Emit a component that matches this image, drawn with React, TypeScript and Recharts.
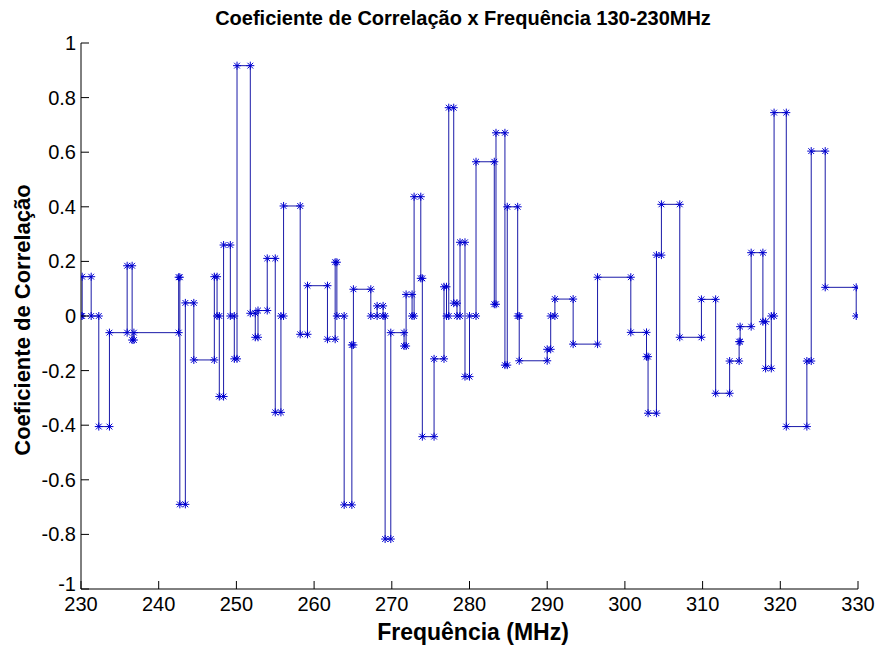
import React from "react";
import { LineChart, Line, XAxis, YAxis } from "recharts";

// Step start frequencies (MHz) and correlation values held until the next step
const stepFreq = [
  230.0, 230.15, 231.31, 232.29, 233.66, 235.94, 236.58, 236.81, 242.57, 242.72,
  243.43, 244.52, 247.16, 247.51, 247.8, 248.35, 249.22, 249.73, 250.08, 251.79,
  252.43, 252.78, 253.97, 255.0, 255.73, 256.07, 258.21, 259.15, 261.72, 262.71,
  262.93, 263.87, 264.86, 265.06, 267.3, 268.11, 268.88, 269.14, 269.87, 271.58,
  271.84, 272.61, 272.87, 273.73, 273.93, 275.44, 276.72, 277.04, 277.33, 277.97,
  278.39, 278.78, 279.42, 280.0, 280.84, 283.19, 283.41, 284.56, 284.86, 286.2,
  286.4, 290.0, 290.45, 290.99, 293.34, 296.48, 300.76, 302.78, 302.98, 304.06,
  304.7, 307.06, 309.85, 311.68, 313.48, 314.7, 314.83, 316.25, 317.76, 318.11,
  318.84, 319.2, 320.77, 323.42, 323.98, 325.78, 329.77,
];
const stepCoef = [
  0, 0.144, 0, -0.405, -0.061, 0.184, -0.088, -0.061, 0.142, -0.69,
  0.048, -0.161, 0.144, 0, -0.295, 0.26, 0, -0.157, 0.917, 0.01,
  -0.078, 0.02, 0.211, -0.353, 0, 0.403, -0.067, 0.111, -0.085, 0.197,
  0, -0.692, -0.106, 0.098, 0, 0.037, 0, -0.817, -0.061, -0.11,
  0.079, 0, 0.437, 0.138, -0.442, -0.157, 0.107, 0, 0.763, 0.047,
  0, 0.27, -0.222, 0, 0.565, 0.043, 0.671, -0.18, 0.4, 0,
  -0.164, -0.122, 0, 0.062, -0.103, 0.142, -0.06, -0.149, -0.356, 0.223,
  0.409, -0.078, 0.061, -0.283, -0.165, -0.094, -0.039, 0.232, -0.021, -0.192,
  0, 0.745, -0.405, -0.165, 0.604, 0.105, 0,
];
const xTicks = [230, 240, 250, 260, 270, 280, 290, 300, 310, 320, 330];
const yTicks = [-1, -0.8, -0.6, -0.4, -0.2, 0, 0.2, 0.4, 0.6, 0.8, 1];

const titleText = "Coeficiente de Correlação x Frequência 130-230MHz";
const xLabelText = "Frequência (MHz)";
const yLabelText = "Coeficiente de Correlação";

// stairs vertices: (x_i, y_i) and (x_{i+1}, y_i)
const stairsData: { f: number; c: number }[] = [];
stepFreq.forEach((f, i) => {
  stairsData.push({ f, c: stepCoef[i] });
  if (i < stepFreq.length - 1) stairsData.push({ f: stepFreq[i + 1], c: stepCoef[i] });
});

const COLOR = "#1a1aa8";
const FONT = "'Liberation Sans', Arial, Helvetica, sans-serif";

const Star = (props: any) => {
  const { cx, cy, index } = props;
  if (cx == null || cy == null) return <g key={index} />;
  const r = 4;
  const d = r * 0.72;
  return (
    <g key={index} stroke="#0000d0" strokeWidth={1}>
      <line x1={cx - r} y1={cy} x2={cx + r} y2={cy} />
      <line x1={cx} y1={cy - r} x2={cx} y2={cy + r} />
      <line x1={cx - d} y1={cy - d} x2={cx + d} y2={cy + d} />
      <line x1={cx - d} y1={cy + d} x2={cx + d} y2={cy - d} />
    </g>
  );
};

const XTick = (props: any) => {
  const { x, y, payload } = props;
  return (
    <g>
      <line x1={x} y1={y} x2={x} y2={y - 8} stroke="#000" strokeWidth={1} />
      <text x={x} y={y + 22} textAnchor="middle" fontSize={20} fontFamily={FONT} fill="#000">
        {String(payload.value)}
      </text>
    </g>
  );
};

const YTick = (props: any) => {
  const { x, y, payload } = props;
  const dy = payload.value === -1 ? 2 : 7;
  return (
    <g>
      <line x1={x} y1={y} x2={x + 8} y2={y} stroke="#000" strokeWidth={1} />
      <text x={x - 5} y={y + dy} textAnchor="end" fontSize={20} fontFamily={FONT} fill="#000">
        {String(payload.value)}
      </text>
    </g>
  );
};

export default function App() {
  return (
    <div style={{ position: "absolute", left: 0, top: 0, width: 879, height: 645, background: "#fff" }}>
      <LineChart
        width={879}
        height={645}
        data={stairsData}
        margin={{ top: 43, right: 21, left: 0, bottom: 0 }}
      >
        <XAxis
          dataKey="f"
          type="number"
          domain={[230, 330]}
          ticks={xTicks}
          interval={0}
          height={56}
          tickLine={false}
          tickSize={0}
          tickMargin={0}
          tick={<XTick />}
          axisLine={{ stroke: "#000", strokeWidth: 1 }}
          allowDataOverflow
        />
        <YAxis
          type="number"
          domain={[-1, 1]}
          ticks={yTicks}
          interval={0}
          width={81}
          tickLine={false}
          tickSize={0}
          tickMargin={0}
          tick={<YTick />}
          axisLine={{ stroke: "#000", strokeWidth: 1 }}
          allowDataOverflow
        />
        <Line
          dataKey="c"
          type="linear"
          stroke={COLOR}
          strokeWidth={1}
          dot={Star}
          activeDot={false}
          isAnimationActive={false}
        />
      </LineChart>
      <svg
        width={879}
        height={645}
        style={{ position: "absolute", left: 0, top: 0, pointerEvents: "none" }}
      >
        <text x={463} y={25} textAnchor="middle" fontSize={20} fontWeight="bold" fontFamily={FONT} fill="#000">
          {titleText}
        </text>
        <text x={473} y={640} textAnchor="middle" fontSize={23} fontWeight="bold" fontFamily={FONT} fill="#000">
          {xLabelText}
        </text>
        <text
          x={0}
          y={0}
          transform="translate(30, 320) rotate(-90)"
          textAnchor="middle"
          fontSize={22}
          fontWeight="bold"
          fontFamily={FONT}
          fill="#000"
        >
          {yLabelText}
        </text>
      </svg>
    </div>
  );
}
